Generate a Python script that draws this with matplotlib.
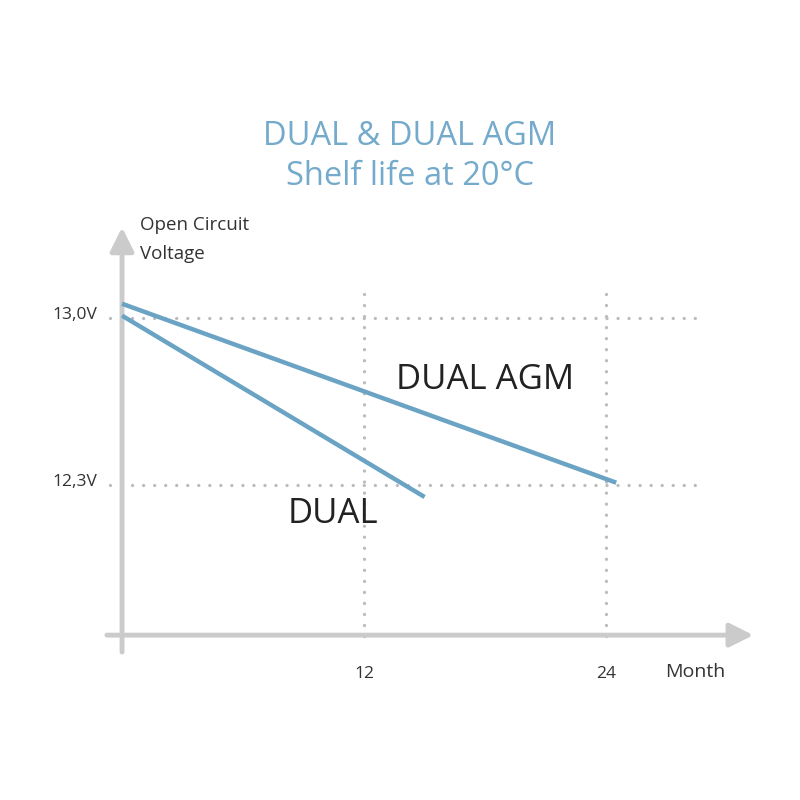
import matplotlib
matplotlib.use("Agg")
import matplotlib.pyplot as plt

# data
months_dual = [0, 15.0]
volts_dual = [13.01, 12.25]
months_agm = [0, 24.5]
volts_agm = [13.06, 12.31]
xticks = [12, 24]
xtick_labels = ["12", "24"]
yticks = [13.0, 12.3]
ytick_labels = ["13,0V", "12,3V"]

line_col = "#6aa3c4"
axis_col = "#cbcbcb"
grid_col = "#bcbcbc"
text_col = "#333333"

plt.rcParams['font.family'] = ['Open Sans', 'DejaVu Sans']

fig = plt.figure(figsize=(8, 8), dpi=100)
ax = fig.add_axes([0, 0, 1, 1])
# pixel mapping: month 0 -> 122 px, 24 -> 606 px; 13.0V -> 318 px, 12.3V -> 485 px
ax.set_xlim(-6.05, 33.61)
ax.set_ylim(10.98, 14.333)
ax.axis("off")

# dotted guides
dots = (0, (0.01, 3.3))
for yv in yticks:
    ax.plot([-0.6, 28.9], [yv, yv], color=grid_col, lw=2.4,
            linestyle=dots, dash_capstyle="round", zorder=1)
for xv in xticks:
    ax.plot([xv, xv], [13.1, 11.62], color=grid_col, lw=2.4,
            linestyle=dots, dash_capstyle="round", zorder=1)

# axes with arrows
arrow = dict(arrowstyle="-|>,head_length=0.9,head_width=0.45", color=axis_col,
             lw=3.5, shrinkA=0, shrinkB=0, mutation_scale=16)
ax.annotate("", xy=(31.3, 11.671), xytext=(-0.75, 11.671), arrowprops=arrow, zorder=2)
ax.annotate("", xy=(0, 13.38), xytext=(0, 11.60), arrowprops=arrow, zorder=2)

# series
ax.plot(months_agm, volts_agm, color=line_col, lw=3.2, solid_capstyle="butt", zorder=3)
ax.plot(months_dual, volts_dual, color=line_col, lw=3.2, solid_capstyle="butt", zorder=3)

# tick labels
for xv, lab in zip(xticks, xtick_labels):
    ax.text(xv, 11.51, lab, ha="center", va="center", fontsize=12.5, color=text_col)
for yv, lab in zip(yticks, ytick_labels):
    ax.text(-1.25, yv + 0.012, lab, ha="right", va="center", fontsize=12.5, color=text_col)

ax.text(26.9, 11.515, "Month", ha="left", va="center", fontsize=14, color=text_col)
ax.text(0.9, 13.39, "Open Circuit", ha="left", va="center", fontsize=13.5, color=text_col)
ax.text(0.9, 13.27, "Voltage", ha="left", va="center", fontsize=13.5, color=text_col)

ax.text(13.6, 12.74, "DUAL AGM", ha="left", va="center", fontsize=25, color="#222222")
ax.text(8.2, 12.18, "DUAL", ha="left", va="center", fontsize=25, color="#222222")

# title
fig.text(0.512, 0.829, "DUAL & DUAL AGM", ha="center", va="center", fontsize=23.5, color="#74aacb")
fig.text(0.512, 0.779, "Shelf life at 20°C", ha="center", va="center", fontsize=23.5, color="#74aacb")

fig.savefig("out.png", dpi=100, facecolor="white")
